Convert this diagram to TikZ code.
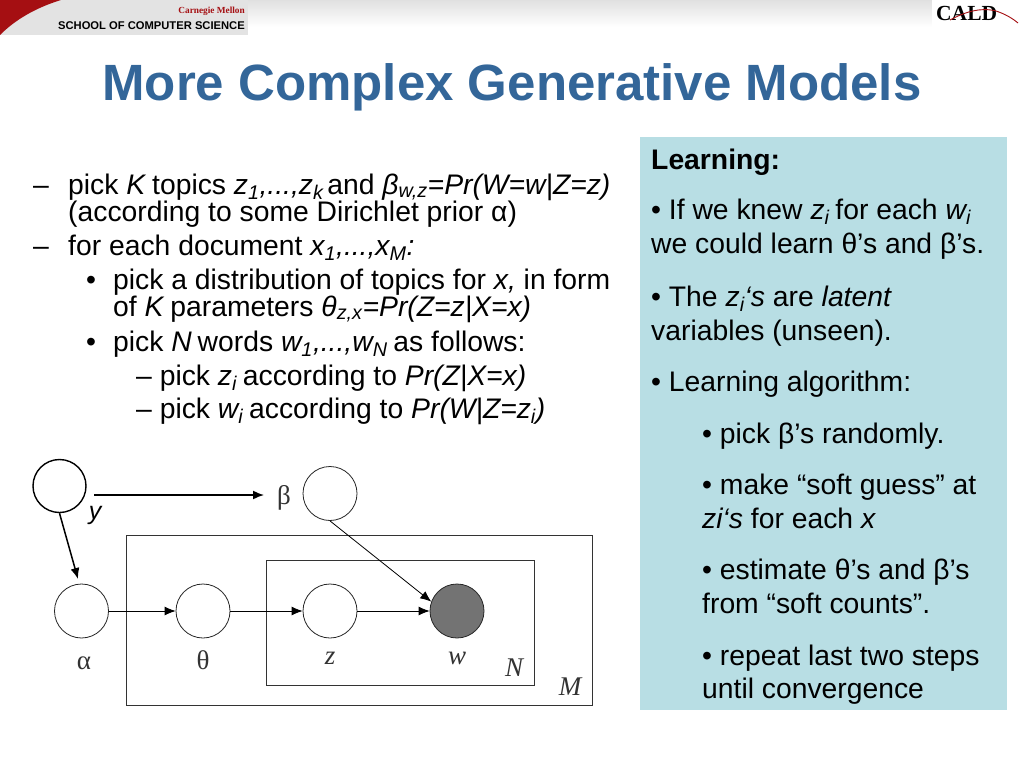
\documentclass[tikz,border=0pt]{standalone}
\usepackage{fontspec}
\setmainfont{Liberation Sans}
\newfontfamily\serifx{Liberation Serif}
\usetikzlibrary{arrows.meta}
\definecolor{titleblue}{HTML}{336699}
\definecolor{panelblue}{HTML}{B8DEE4}
\definecolor{cmured}{HTML}{A50F12}
\newcommand{\sbs}[1]{\textsubscript{#1}}
\tikzset{
 x=1pt,y=-1pt,
 body/.style={anchor=base west,inner sep=0pt,font=\fontsize{28.3}{28.3}\selectfont,text=black},
 dia/.style={anchor=base,inner sep=0pt,font=\serifx\fontsize{27}{27}\selectfont,text=black!80},
 diai/.style={anchor=base,inner sep=0pt,font=\serifx\itshape\fontsize{27}{27}\selectfont,text=black!80},
 pgmnode/.style={circle,draw=black!85,line width=0.8pt,minimum size=54pt,inner sep=0pt,fill=white},
 plate/.style={draw=black!80,line width=0.9pt},
 arr/.style={-{Latex[length=11pt,width=9pt]},line width=0.8pt,black},
 thick arr/.style={-{Latex[length=11pt,width=9pt]},line width=1.5pt,black},
}
\begin{document}
\begin{tikzpicture}
\useasboundingbox (0,0) rectangle (1024,768);
\fill[white] (0,0) rectangle (1024,768);
% header
\shade[top color=black!12,bottom color=white] (0,0) rectangle (1024,27);
\fill[black!11] (0,0) rectangle (248,35);
\fill[cmured] (0,35) .. controls (15,20) and (35,8) .. (61,0) -- (0,0) -- cycle;
\node[anchor=base east,inner sep=0pt,text=cmured,font=\serifx\bfseries\fontsize{9.3}{9.3}\selectfont] (cmu) at (245,14) {Carnegie Mellon};
\node[anchor=base east,inner sep=0pt,font=\bfseries\fontsize{11.2}{11.2}\selectfont] (scs) at (245,30) {SCHOOL OF COMPUTER SCIENCE};
\fill[white] (932,0) rectangle (1024,27);
\node[anchor=base west,inner sep=0pt,font=\serifx\bfseries\fontsize{21.5}{21.5}\selectfont] (cald) at (936,21) {CALD};
\draw[cmured,line width=0.9pt] (950,20) .. controls (965,12) and (980,7) .. (996,11) .. controls (1005,14) and (1012,18) .. (1018,23);
% title
\node[anchor=base,inner sep=0pt,text=titleblue,font=\bfseries\fontsize{51}{51}\selectfont] (title) at (512,100) {More Complex Generative Models};
% panel
\fill[panelblue] (640,137) rectangle (1007,710);
% left text
\node[body] (d1) at (33,194) {–};
\node[body] (l1) at (68,194) {pick \textit{K}\hspace{-2pt} topics \textit{z\sbs{1},...,z\sbs{k}}\hspace{-4pt} and \textit{β\sbs{w,z}=Pr(W=w|Z=z)}};
\node[body] (l2) at (68,221) {(according to some Dirichlet prior α)};
\node[body] (d2) at (33,255) {–};
\node[body] (l3) at (68,255) {for each document \textit{x\sbs{1},...,x\sbs{M}:}};
\node[body] (b1) at (86,289) {•};
\node[body] (l4) at (113,289) {pick a distribution of topics for \textit{x,} in form};
\node[body] (l5) at (113,316) {of \textit{K}\hspace{-2pt} parameters \textit{θ\sbs{z,x}=Pr(Z=z|X=x)}};
\node[body] (b2) at (86,351) {•};
\node[body] (l6) at (113,351) {pick \textit{N}\hspace{-2pt} words \textit{w\sbs{1},...,w\sbs{N}}\hspace{-2pt} as follows:};
\node[body] (l7) at (136,385) {– pick \textit{z\sbs{i}}\hspace{-2pt} according to \textit{Pr(Z|X=x)}};
\node[body] (l8) at (136,418) {– pick \textit{w\sbs{i}}\hspace{-2pt} according to \textit{Pr(W|Z=z\sbs{i})}};
% right text
\node[body] (r1) at (651,169) {\bfseries Learning:};
\node[body] (r2) at (651,219) {• If we knew \textit{z\sbs{i}}\hspace{-2pt} for each \textit{w\sbs{i}}};
\node[body] (r3) at (651,253) {we could learn θ’s and β’s.};
\node[body] (r4) at (651,306) {• The \textit{z\sbs{i}‘s} are \textit{latent}};
\node[body] (r5) at (651,340) {variables (unseen).};
\node[body] (r6) at (651,391) {• Learning algorithm:};
\node[body] (r7) at (702,443) {• pick β’s randomly.};
\node[body] (r8) at (702,494) {• make “soft guess” at};
\node[body] (r9) at (702,528) {\textit{zi‘s} for each \textit{x}};
\node[body] (r10) at (702,579) {• estimate θ’s and β’s};
\node[body] (r11) at (702,613) {from “soft counts”.};
\node[body] (r12) at (702,665) {• repeat last two steps};
\node[body] (r13) at (702,698) {until convergence};
% plates
\draw[plate] (126,535.5) rectangle (592,705);
\draw[plate] (266,560) rectangle (534,685);
% diagram nodes
\node[pgmnode,minimum size=53pt,line width=1.4pt,draw=black] (y) at (59.5,486) {};
\node[pgmnode] (b) at (330,493.5) {};
\node[pgmnode] (a) at (81.5,611) {};
\node[pgmnode] (t) at (203,611) {};
\node[pgmnode] (z) at (330,611) {};
\node[pgmnode,fill=black!55] (w) at (457,611) {};
% labels
\node[dia] (lb) at (284,504) {β};
\node[dia] (la) at (84,669) {α};
\node[dia] (lt) at (203,669) {θ};
\node[diai] (lz) at (330,664) {z};
\node[diai] (lw) at (457,664) {w};
\node[diai] (lN) at (514,676) {N};
\node[diai] (lM) at (570,695) {M};
\node[anchor=base,inner sep=0pt,font=\itshape\fontsize{25}{25}\selectfont] (ly) at (95,519) {y};
% connectors
\coordinate (ys) at (94,495);
\coordinate (ae) at (78,579);
\draw[thick arr] (ys) -- (264,495);
\draw[thick arr] (y.south) -- (ae);
\draw[arr] (a) -- (t);
\draw[arr] (t) -- (z);
\draw[arr] (z) -- (w);
\draw[arr] (b.south) -- (w.160);
\end{tikzpicture}
\end{document}
